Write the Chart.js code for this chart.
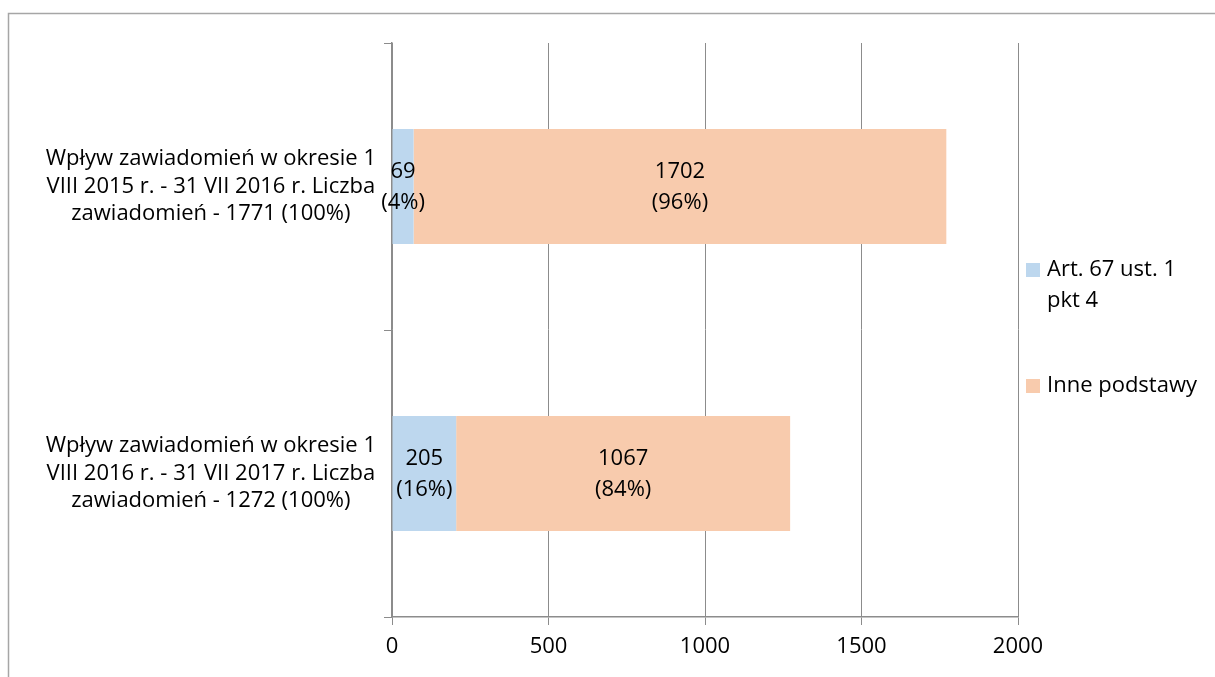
<!DOCTYPE html>
<html>
<head>
<meta charset="utf-8">
<script src="https://cdn.jsdelivr.net/npm/chart.js@4.4.1/dist/chart.umd.min.js"></script>
<style>
  html, body { margin: 0; padding: 0; background: #fff; }
  #wrap { width: 1215px; height: 677px; position: relative; }
</style>
</head>
<body>
<div id="wrap"><canvas id="chart"></canvas></div>
<script>
// dane z wykresu
const categories = [
    ['Wpływ zawiadomień w okresie 1', 'VIII 2015 r. - 31 VII 2016 r. Liczba', 'zawiadomień - 1771 (100%)'],
    ['Wpływ zawiadomień w okresie 1', 'VIII 2016 r. - 31 VII 2017 r. Liczba', 'zawiadomień - 1272 (100%)']
];
const seriesNames = [['Art. 67 ust. 1', 'pkt 4'], ['Inne podstawy']];
const art67 = [69, 205];
const inne = [1702, 1067];
const art67Pct = [4, 16];
const innePct = [96, 84];
const xTicks = [0, 500, 1000, 1500, 2000];

const FONT = "'Open Sans', sans-serif";
const gridColor = '#8c8c8c';

// etykiety danych w środku segmentów
const labelsPlugin = {
    id: 'segmentLabels',
    afterDatasetsDraw(chart) {
        const ctx = chart.ctx;
        const pcts = [art67Pct, innePct];
        ctx.save();
        ctx.font = '22px ' + FONT;
        ctx.fillStyle = '#000';
        ctx.textAlign = 'center';
        ctx.textBaseline = 'middle';
        chart.data.datasets.forEach((ds, i) => {
            const meta = chart.getDatasetMeta(i);
            meta.data.forEach((bar, j) => {
                const cx = (bar.x + bar.base) / 2;
                ctx.fillText(String(ds.data[j]), cx, bar.y - 15);
                ctx.fillText('(' + pcts[i][j] + '%)', cx, bar.y + 16);
            });
        });
        ctx.restore();
    }
};

// legenda po prawej + ramka
const sideLegend = {
    id: 'sideLegend',
    afterDraw(chart) {
        const ctx = chart.ctx;
        ctx.save();
        ctx.strokeStyle = '#a6a6a6';
        ctx.lineWidth = 1.5;
        ctx.strokeRect(8.5, 13.5, 1400, 800);
        ctx.font = '22px ' + FONT;
        ctx.fillStyle = '#000';
        ctx.textBaseline = 'middle';
        const tops = [270, 386];
        chart.data.datasets.forEach((ds, i) => {
            ctx.fillStyle = ds.backgroundColor;
            ctx.fillRect(1026, tops[i] - 7, 14, 14);
            ctx.fillStyle = '#000';
            seriesNames[i].forEach((line, k) => {
                ctx.fillText(line, 1047, tops[i] + k * 31);
            });
        });
        ctx.restore();
    }
};

new Chart(document.getElementById('chart').getContext('2d'), {
    type: 'bar',
    data: {
        labels: categories,
        datasets: [{
            label: seriesNames[0].join(' '),
            data: art67,
            backgroundColor: '#bdd7ee',
            barPercentage: 0.4,
            categoryPercentage: 1.0
        }, {
            label: seriesNames[1].join(' '),
            data: inne,
            backgroundColor: '#f8cbad',
            barPercentage: 0.4,
            categoryPercentage: 1.0
        }]
    },
    options: {
        indexAxis: 'y',
        responsive: true,
        maintainAspectRatio: false,
        animation: false,
        layout: {
            padding: { top: 43, right: 197, left: 10, bottom: 0 }
        },
        scales: {
            x: {
                stacked: true,
                min: 0,
                max: 2000,
                afterBuildTicks: (s) => { s.ticks = xTicks.map(v => ({ value: v })); },
                afterFit: (s) => { s.height = 60; s.paddingLeft = 0; s.paddingRight = 0; },
                grid: { color: gridColor, tickLength: 8 },
                border: { color: gridColor, width: 1.5 },
                ticks: {
                    color: '#000',
                    padding: 9,
                    font: { size: 22, family: FONT },
                    callback: (v) => String(v)
                }
            },
            y: {
                stacked: true,
                afterFit: (s) => { s.width = 382; s.paddingTop = 0; s.paddingBottom = 0; },
                grid: { offset: true, drawOnChartArea: false, color: gridColor, tickLength: 8 },
                border: { color: gridColor, width: 1.5 },
                ticks: {
                    color: '#000',
                    crossAlign: 'center',
                    padding: 8,
                    font: { size: 22, family: FONT, lineHeight: 1.25 }
                }
            }
        },
        plugins: {
            legend: { display: false },
            tooltip: { enabled: false }
        }
    },
    plugins: [labelsPlugin, sideLegend]
});
</script>
</body>
</html>
